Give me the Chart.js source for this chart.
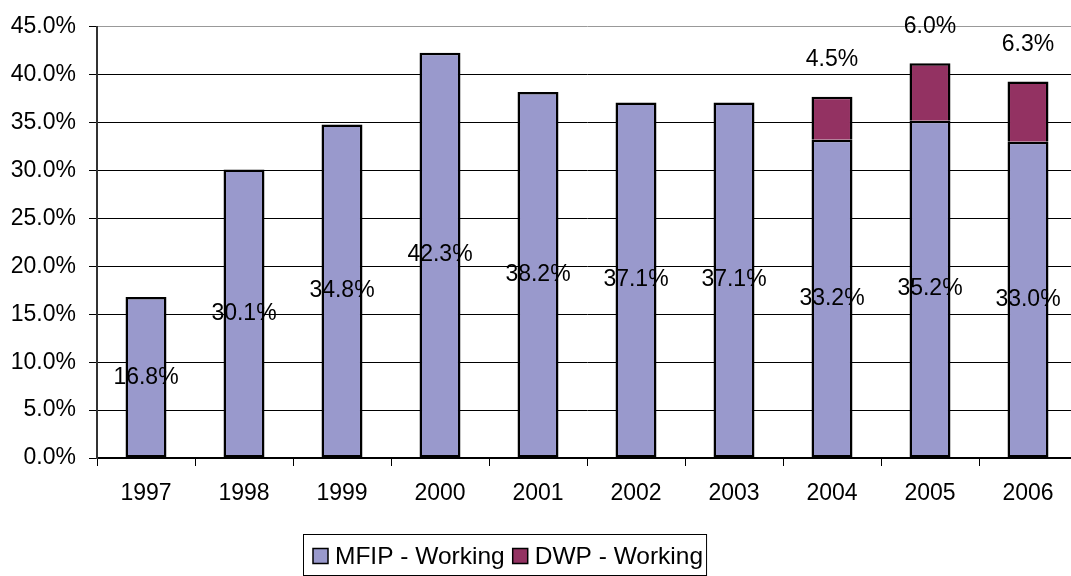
<!DOCTYPE html>
<html>
<head>
<meta charset="utf-8">
<script src="https://cdn.jsdelivr.net/npm/chart.js@4/dist/chart.umd.min.js"></script>
<style>
  html, body { margin: 0; padding: 0; background: #fff; overflow: hidden; }
  #wrap { width: 1071px; height: 576px; overflow: hidden; position: relative; }
</style>
</head>
<body>
<div id="wrap"><canvas id="chart" width="1090" height="576"></canvas></div>
<script>
// Chart data
const years = ['1997', '1998', '1999', '2000', '2001', '2002', '2003', '2004', '2005', '2006'];
const mfipWorking = [16.8, 30.1, 34.8, 42.3, 38.2, 37.1, 37.1, 33.2, 35.2, 33.0];
const dwpWorking = [null, null, null, null, null, null, null, 4.5, 6.0, 6.3];
const yTicks = [0, 5, 10, 15, 20, 25, 30, 35, 40, 45];

const FONT = "'Liberation Sans', Arial, sans-serif";
const MFIP_COLOR = '#9999CC';
const DWP_COLOR = '#933262';

// value labels: MFIP in the middle of the bar, DWP above the stack
const valueLabels = {
    id: 'valueLabels',
    afterDatasetsDraw(chart) {
        const ctx = chart.ctx;
        ctx.save();
        ctx.font = '23px ' + FONT;
        ctx.fillStyle = '#000';
        ctx.textAlign = 'center';
        ctx.textBaseline = 'middle';
        chart.data.datasets.forEach((ds, di) => {
            const meta = chart.getDatasetMeta(di);
            meta.data.forEach((bar, i) => {
                const v = ds.data[i];
                if (v == null) return;
                const txt = v.toFixed(1) + '%';
                if (di === 0) {
                    ctx.fillText(txt, bar.x, (bar.y + bar.base) / 2);
                } else {
                    ctx.fillText(txt, bar.x, bar.y - 37);
                }
            });
        });
        ctx.restore();
    }
};

// legend drawn by hand so it can sit where the original one sits, with its box
const boxedLegend = {
    id: 'boxedLegend',
    afterDraw(chart) {
        const ctx = chart.ctx;
        ctx.save();
        ctx.font = '24.5px ' + FONT;
        ctx.textBaseline = 'middle';
        ctx.textAlign = 'left';
        const left = 303, top = 534, cy = 556, sq = 15;
        let x = left + 10;
        chart.data.datasets.forEach((ds, i) => {
            ctx.fillStyle = ds.backgroundColor;
            ctx.fillRect(x, cy - sq / 2, sq, sq);
            ctx.strokeStyle = '#000';
            ctx.lineWidth = 1.5;
            ctx.strokeRect(x, cy - sq / 2, sq, sq);
            x += sq + 7;
            ctx.fillStyle = '#000';
            ctx.fillText(ds.label, x, cy + 1);
            x += ctx.measureText(ds.label).width + 8;
        });
        ctx.strokeStyle = '#000';
        ctx.lineWidth = 1;
        ctx.strokeRect(left + 0.5, top + 0.5, x - left - 5, 41);
        ctx.restore();
    }
};

new Chart(document.getElementById('chart'), {
    type: 'bar',
    data: {
        labels: years,
        datasets: [
            {
                label: 'MFIP - Working',
                data: mfipWorking,
                backgroundColor: MFIP_COLOR,
                borderColor: '#000',
                borderWidth: 2.5,
                borderSkipped: false,
                barPercentage: 0.418,
                categoryPercentage: 1
            },
            {
                label: 'DWP - Working',
                data: dwpWorking,
                backgroundColor: DWP_COLOR,
                borderColor: '#000',
                borderWidth: { top: 2.5, left: 2.5, right: 2.5, bottom: 0 },
                borderSkipped: false,
                barPercentage: 0.418,
                categoryPercentage: 1
            }
        ]
    },
    options: {
        responsive: false,
        animation: false,
        layout: { padding: { left: 0, right: 13, top: 17, bottom: 0 } },
        plugins: {
            tooltip: { enabled: false },
            legend: { display: false }
        },
        scales: {
            x: {
                stacked: true,
                afterFit(scale) { scale.height = 118; },
                grid: {
                    display: true,
                    drawOnChartArea: false,
                    drawTicks: true,
                    tickLength: 8,
                    color: '#000',
                    offset: true
                },
                border: { color: '#000', width: 2 },
                ticks: {
                    font: { size: 23, family: FONT },
                    color: '#000',
                    padding: 14
                }
            },
            y: {
                stacked: true,
                min: 0,
                max: 45,
                afterFit(scale) { scale.width = 97; },
                afterBuildTicks(scale) {
                    scale.ticks = yTicks.map(v => ({ value: v }));
                },
                grid: {
                    color: (c) => c.tick && c.tick.value === 45 ? '#999' : '#000',
                    lineWidth: 1,
                    drawTicks: true,
                    tickLength: 8,
                    tickColor: '#000'
                },
                border: { color: '#333', width: 2 },
                ticks: {
                    font: { size: 23, family: FONT },
                    color: '#000',
                    padding: 13,
                    callback: (v) => v.toFixed(1) + '%'
                }
            }
        }
    },
    plugins: [valueLabels, boxedLegend]
});
</script>
</body>
</html>
